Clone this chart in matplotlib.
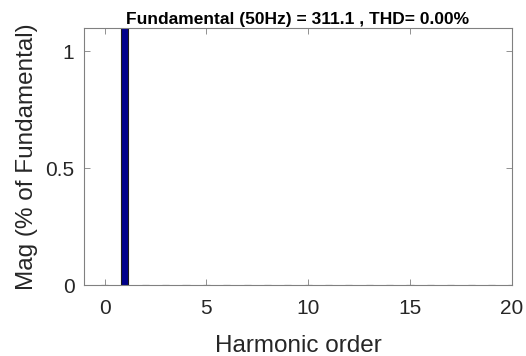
import numpy as np
import matplotlib
matplotlib.use("Agg")
import matplotlib.pyplot as plt

# harmonic spectrum, fundamental = 100 % (clipped by the y range, as in the scope plot)
harmonics = list(range(0, 21))
mags = [0.0, 100.0] + [0.0] * 19

fund_freq = 50
fund_mag = 311.1
thd = 0.00

plt.rcParams['font.family'] = ['Liberation Sans', 'DejaVu Sans']

fig = plt.figure(figsize=(5.26, 3.56), dpi=100)
ax = fig.add_axes([0.16, 0.199, 0.813, 0.722])

ax.bar(harmonics, mags, width=0.35, color='#00008b', edgecolor='#1a1a1a',
       linewidth=0.8)

ax.set_xlim(-1, 20)
ax.set_ylim(0, 1.1)
ax.set_xticks([0, 5, 10, 15, 20])
ax.set_yticks([0, 0.5, 1])
ax.set_yticklabels(['0', '0.5', '1'])

for s in ax.spines.values():
    s.set_color('#808080')
    s.set_linewidth(0.8)
ax.tick_params(direction='in', top=True, right=True, length=4, width=0.6,
               color='#808080', labelsize=15, labelcolor='#262626', pad=7)
ax.tick_params(axis='x', pad=10)

ax.set_xlabel('Harmonic order', fontsize=17.5, color='#262626', labelpad=12)
ax.set_ylabel('Mag (% of Fundamental)', fontsize=17.5, color='#262626', labelpad=5)
ax.set_title('Fundamental (%dHz) = %.1f , THD= %.2f%%' % (fund_freq, fund_mag, thd),
             fontsize=12.5, fontweight='bold', color='black', pad=3)

fig.savefig('out.png', dpi=100)
